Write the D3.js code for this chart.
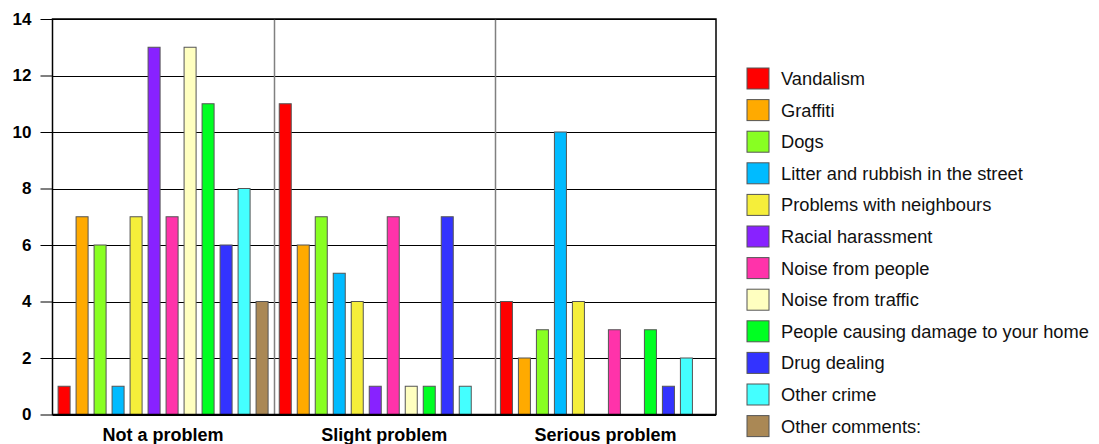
<!DOCTYPE html>
<html>
<head>
<meta charset="utf-8">
<script src="https://cdn.jsdelivr.net/npm/d3@7"></script>
<style>
  html, body { margin: 0; padding: 0; background: #fff; }
  svg { display: block; font-family: "Liberation Sans", Arial, sans-serif; }
</style>
</head>
<body>
<svg id="chart" width="1099" height="444"></svg>
<script>
const categories = ["Not a problem", "Slight problem", "Serious problem"];
const seriesNames = ["Vandalism", "Graffiti", "Dogs", "Litter and rubbish in the street",
  "Problems with neighbours", "Racial harassment", "Noise from people", "Noise from traffic",
  "People causing damage to your home", "Drug dealing", "Other crime", "Other comments:"];
const seriesColors = ["#ff0000", "#ffaa00", "#88ff22", "#00bbff", "#f5ee3a", "#8822ff",
  "#ff33aa", "#ffffc0", "#00ff22", "#3333ff", "#44ffff", "#aa8855"];
// values[series][category]
const vandalism   = [1, 11, 4];
const graffiti    = [7, 6, 2];
const dogs        = [6, 7, 3];
const litter      = [1, 5, 10];
const neighbours  = [7, 4, 4];
const racial      = [13, 1, 0];
const noisePeople = [7, 7, 3];
const noiseTraffic= [13, 1, 0];
const damage      = [11, 1, 3];
const drugs       = [6, 7, 1];
const otherCrime  = [8, 1, 2];
const otherComm   = [4, 0, 0];
const seriesValues = [vandalism, graffiti, dogs, litter, neighbours, racial, noisePeople,
  noiseTraffic, damage, drugs, otherCrime, otherComm];
const yTicks = [0, 2, 4, 6, 8, 10, 12, 14];

const svg = d3.select("#chart");
const L = 52.5, R = 716, T = 19, B = 414.5;

const x0 = d3.scaleBand().domain(categories).range([L, R]).padding(0);
const x1 = d3.scaleBand().domain(d3.range(seriesNames.length))
  .range([0, x0.bandwidth()]).paddingInner(0.333).paddingOuter(0.31);
const y = d3.scaleLinear().domain([0, 14]).range([B, T]);

// gridlines
svg.append("g").selectAll("line").data(yTicks).join("line")
  .attr("x1", L).attr("x2", R)
  .attr("y1", d => Math.round(y(d)) + 0.5).attr("y2", d => Math.round(y(d)) + 0.5)
  .attr("stroke", "#000").attr("stroke-width", 1);

// category dividers
svg.append("g").selectAll("line").data(categories.slice(1)).join("line")
  .attr("x1", d => Math.round(x0(d)) + 0.5).attr("x2", d => Math.round(x0(d)) + 0.5)
  .attr("y1", T).attr("y2", B)
  .attr("stroke", "#808080").attr("stroke-width", 1.5);

// bars
const groups = svg.append("g").selectAll("g").data(categories).join("g")
  .attr("transform", d => `translate(${x0(d)},0)`);
groups.selectAll("rect")
  .data((c, ci) => seriesValues.map((vals, si) => ({ si, v: vals[ci] })).filter(d => d.v > 0))
  .join("rect")
  .attr("x", d => x1(d.si))
  .attr("width", x1.bandwidth())
  .attr("y", d => y(d.v))
  .attr("height", d => y(0) - y(d.v))
  .attr("fill", d => seriesColors[d.si])
  .attr("stroke", "#555")
  .attr("stroke-width", 1);

// frame
svg.append("rect").attr("x", L).attr("y", T).attr("width", R - L).attr("height", B - T)
  .attr("fill", "none").attr("stroke", "#000").attr("stroke-width", 1.5);

// y axis
const yAxis = d3.axisLeft(y).tickValues(yTicks).tickSize(12).tickPadding(9).tickFormat(d3.format("d"));
const ya = svg.append("g").attr("transform", `translate(${L},0)`).call(yAxis);
ya.select(".domain").remove();
ya.selectAll(".tick line").attr("stroke", "#000");
ya.selectAll(".tick text").attr("font-size", 17).attr("font-weight", "bold")
  .attr("fill", "#000").attr("font-family", "Liberation Sans, Arial, sans-serif");

// x axis labels
const xAxis = d3.axisBottom(x0).tickSize(0).tickPadding(14);
const xa = svg.append("g").attr("transform", `translate(0,${B})`).call(xAxis);
xa.select(".domain").remove();
xa.selectAll(".tick text").attr("font-size", 18).attr("font-weight", "bold")
  .attr("fill", "#000").attr("font-family", "Liberation Sans, Arial, sans-serif");

// legend
const leg = svg.append("g").selectAll("g").data(seriesNames).join("g")
  .attr("transform", (d, i) => `translate(747,${68 + i * 31.6})`);
leg.append("rect").attr("width", 22).attr("height", 21)
  .attr("fill", (d, i) => seriesColors[i]).attr("stroke", "#555").attr("stroke-width", 1);
leg.append("text").attr("x", 34).attr("y", 10.5).attr("dy", "0.35em")
  .attr("font-size", 18.3).attr("fill", "#111").text(d => d);
</script>
</body>
</html>
